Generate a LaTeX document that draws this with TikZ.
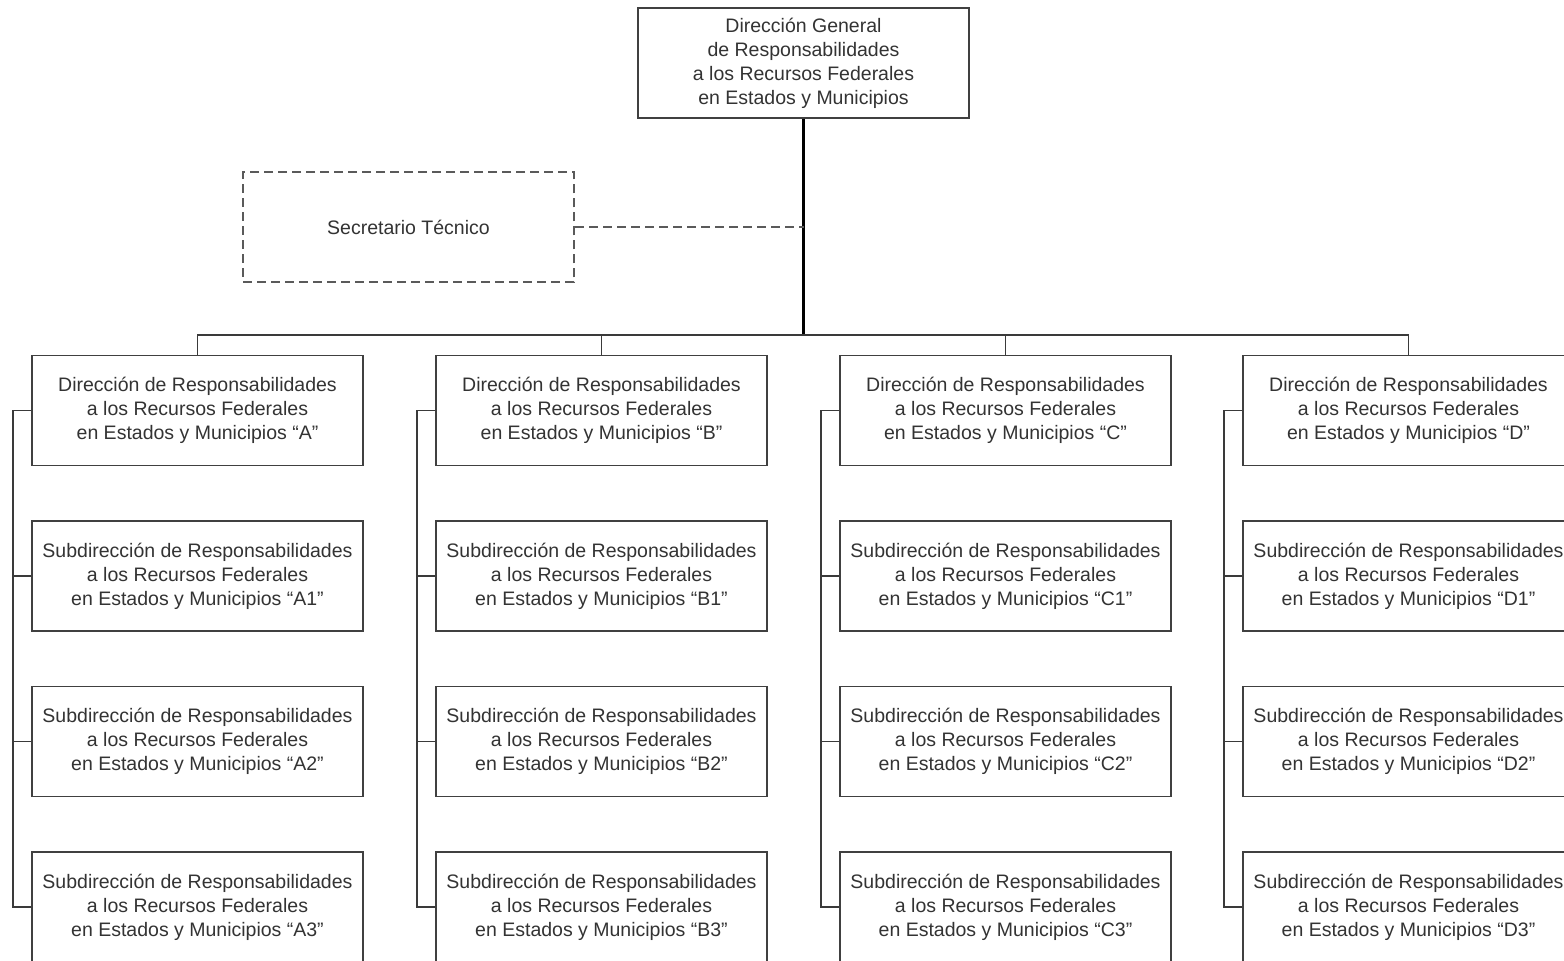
\documentclass[tikz,border=0pt]{standalone}
\usepackage{fontspec}
\setmainfont{Liberation Sans}
\begin{document}
\begin{tikzpicture}[x=0.5pt,y=-0.5pt,
  unit/.style={draw=boxgray,line width=0.8pt,fill=white,minimum width=165.5pt,minimum height=55pt,
    align=center,inner sep=0pt,text=txtgray,font=\fontsize{9.75}{12}\selectfont},
  dashline/.style={dash pattern=on 4.5pt off 2.5pt,line width=1pt,draw=dashgray},
  staff/.style={unit,dashline},
  link/.style={draw=linegray,line width=0.8pt},
  trunk/.style={draw=black,line width=1.1pt}]
\definecolor{boxgray}{HTML}{404040}
\definecolor{txtgray}{HTML}{333333}
\definecolor{linegray}{HTML}{3A3A3A}
\definecolor{dashgray}{HTML}{5A5A5A}
\useasboundingbox (0,0) rectangle (1564,961);
\clip (0,0) rectangle (1564,961);
\fill[white] (0,0) rectangle (1564,961);

% head of the unit
\node[unit] (top) at (803.5,63) {Dirección General\\de Responsabilidades\\a los Recursos Federales\\en Estados y Municipios};
\node[staff] (sec) at (408.5,227.5) {Secretario Técnico};

% directorates and their sub-directorates
\foreach \L/\cx in {A/197.5,B/601.5,C/1005.5,D/1408.5}{
  \node[unit] (d\L) at (\cx,410.5) {Dirección de Responsabilidades\\a los Recursos Federales\\en Estados y Municipios “\L”};
  \node[unit] (s\L1) at (\cx,576) {Subdirección de Responsabilidades\\a los Recursos Federales\\en Estados y Municipios “\L1”};
  \node[unit] (s\L2) at (\cx,741.5) {Subdirección de Responsabilidades\\a los Recursos Federales\\en Estados y Municipios “\L2”};
  \node[unit] (s\L3) at (\cx,907) {Subdirección de Responsabilidades\\a los Recursos Federales\\en Estados y Municipios “\L3”};
  % left spine linking each column
  \draw[link] (d\L.west) -- ++(-18,0) |- (s\L3.west);
  \draw[link] (s\L1.west) -- ++(-18,0);
  \draw[link] (s\L2.west) -- ++(-18,0);
}

% main trunk and bus
\coordinate (bus) at (803.5,335);
\draw[trunk] (top.south) -- (bus);
\draw[link] (dA.north) |- (bus) -| (dD.north);
\draw[link] (dB.north) -- (dB.north |- bus);
\draw[link] (dC.north) -- (dC.north |- bus);
\draw[dashline] (sec.east) -- (sec.east -| top.south);
\end{tikzpicture}
\end{document}
